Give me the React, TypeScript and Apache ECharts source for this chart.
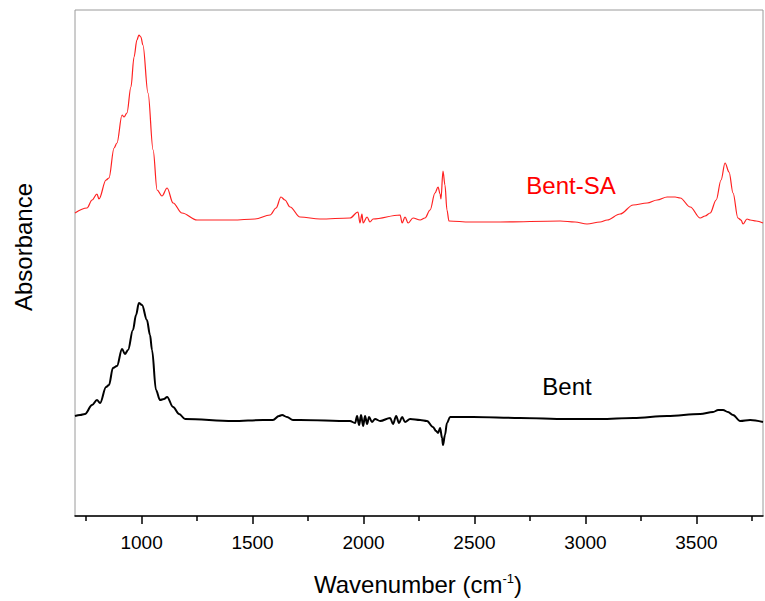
import React, { useEffect, useRef } from "react";
import * as echarts from "echarts";

// Bent-SA spectrum (red)
const bentSaWavenumber = [
  700, 754, 777, 799, 808, 840, 853, 876, 889, 912, 921, 934, 952, 966, 979, 988, 997, 1006,
  1029, 1052, 1070, 1092, 1115, 1142, 1182, 1250, 1412, 1511, 1579, 1606, 1628, 1646, 1669,
  1714, 1804, 1939, 1975, 1984, 1993, 1998, 2016, 2029, 2043, 2165, 2174, 2187, 2201, 2223,
  2255, 2277, 2300, 2322, 2336, 2345, 2349, 2358, 2367, 2376, 2385, 2480, 2615, 2886, 2953,
  3007, 3066, 3098, 3156, 3215, 3278, 3323, 3368, 3404, 3427, 3472, 3517, 3539, 3562, 3589,
  3611, 3629, 3647, 3665, 3687, 3701, 3710, 3728, 3742, 3769, 3800,
];
const bentSaAbsorbance = [
  3.03, 3.08, 3.16, 3.22, 3.17, 3.36, 3.38, 3.68, 3.73, 4.01, 3.99, 4.03, 4.29, 4.59, 4.76, 4.81, 4.79, 4.71,
  4.23, 3.66, 3.26, 3.2, 3.28, 3.13, 3.03, 2.96, 2.96, 2.97, 3.01, 3.08, 3.19, 3.16, 3.09,
  2.99, 2.97, 2.98, 3.04, 2.93, 3.02, 2.93, 2.99, 2.94, 2.97, 3.01, 2.93, 2.99, 2.93, 2.98,
  2.96, 2.98, 3.06, 3.23, 3.29, 3.22, 3.17, 3.45, 3.31, 3.06, 2.95, 2.94, 2.94, 2.95, 2.94,
  2.92, 2.94, 2.96, 3.02, 3.11, 3.13, 3.16, 3.19, 3.19, 3.18, 3.09, 2.98, 3.0, 3.03, 3.16,
  3.36, 3.53, 3.44, 3.23, 2.98, 2.96, 2.92, 2.97, 2.96, 2.95, 2.93,
];

// Bent spectrum (black)
const bentWavenumber = [
  700, 723, 745, 777, 799, 813, 840, 853, 871, 889, 912, 925, 939, 961, 975, 988, 1002, 1024,
  1038, 1047, 1065, 1083, 1101, 1115, 1142, 1169, 1196, 1412, 1547, 1592, 1619, 1633, 1655,
  1682, 1714, 1939, 1962, 1971, 1980, 1989, 1998, 2007, 2016, 2025, 2038, 2052, 2075, 2120,
  2133, 2147, 2160, 2174, 2187, 2210, 2255, 2286, 2313, 2327, 2336, 2345, 2354, 2358, 2367,
  2376, 2390, 2494, 2705, 2917, 3066, 3215, 3368, 3517, 3575, 3598, 3620, 3642, 3665, 3697,
  3742, 3800,
];
const bentAbsorbance = [
  1.0, 1.01, 1.02, 1.11, 1.16, 1.13, 1.29, 1.31, 1.48, 1.5, 1.67, 1.62, 1.66, 1.86, 2.01, 2.13, 2.11, 1.96,
  1.81, 1.66, 1.26, 1.16, 1.17, 1.19, 1.09, 1.02, 0.97, 0.95, 0.96, 0.96, 1.0, 1.01, 0.99,
  0.96, 0.96, 0.95, 0.93, 1.0, 0.91, 1.01, 0.9, 1.0, 0.92, 0.99, 0.94, 0.97, 0.95, 0.98,
  0.92, 1.0, 0.93, 0.99, 0.94, 0.97, 0.96, 0.95, 0.89, 0.85, 0.83, 0.88, 0.78, 0.71, 0.81,
  0.93, 0.99, 0.99, 0.98, 0.97, 0.97, 0.98, 1.0, 1.02, 1.04, 1.06, 1.06, 1.04, 1.01, 0.95,
  0.96, 0.94,
];

const majorTicks = [1000, 1500, 2000, 2500, 3000, 3500];
const minorTicks = [750, 1250, 1750, 2250, 2750, 3250, 3750];

const FONT = "'Liberation Sans', Arial, sans-serif";

export default function App() {
  const ref = useRef<HTMLDivElement>(null);
  useEffect(() => {
    if (!ref.current) return;
    const chart = echarts.init(ref.current, undefined, { renderer: "svg" });
    const saData = bentSaWavenumber.map((x, i) => [x, bentSaAbsorbance[i]]);
    const bData = bentWavenumber.map((x, i) => [x, bentAbsorbance[i]]);
    chart.setOption({
      animation: false,
      backgroundColor: "#ffffff",
      grid: {
        left: 75,
        top: 10,
        right: 2,
        bottom: 85,
        show: true,
        borderColor: "#9a9a9a",
        borderWidth: 1,
        backgroundColor: "transparent",
      },
      xAxis: [
        {
          type: "value",
          min: 700,
          max: 3800,
          position: "bottom",
          axisLine: { show: true, onZero: false, lineStyle: { color: "#000", width: 1.5 } },
          axisTick: {
            show: true,
            inside: false,
            length: 8,
            customValues: majorTicks,
            lineStyle: { color: "#000", width: 1.5 },
          },
          axisLabel: {
            show: true,
            customValues: majorTicks,
            formatter: (v: number) => String(v),
            margin: 17,
            fontSize: 19,
            color: "#000",
            fontFamily: FONT,
          },
          splitLine: { show: false },
        },
        {
          type: "value",
          min: 700,
          max: 3800,
          position: "bottom",
          axisLine: { show: false, onZero: false },
          axisTick: {
            show: true,
            inside: false,
            length: 5,
            customValues: minorTicks,
            lineStyle: { color: "#000", width: 1.5 },
          },
          axisLabel: { show: false },
          splitLine: { show: false },
        },
      ],
      yAxis: {
        type: "value",
        min: 0,
        max: 5.06,
        axisLine: { show: false },
        axisTick: { show: false },
        axisLabel: { show: false },
        splitLine: { show: false },
      },
      series: [
        {
          name: "Bent-SA",
          type: "line",
          data: saData,
          showSymbol: false,
          symbol: "none",
          smooth: 0.35,
          smoothMonotone: "x",
          lineStyle: { color: "#ff2020", width: 1.2 },
          xAxisIndex: 0,
        },
        {
          name: "Bent",
          type: "line",
          data: bData,
          showSymbol: false,
          symbol: "none",
          smooth: 0.35,
          smoothMonotone: "x",
          lineStyle: { color: "#000", width: 2 },
          xAxisIndex: 0,
        },
      ],
      graphic: [
        {
          type: "text",
          x: 571,
          y: 185,
          style: {
            text: "Bent-SA",
            fill: "#ff0000",
            fontSize: 24,
            fontFamily: FONT,
            textAlign: "center",
            textVerticalAlign: "middle",
          },
        },
        {
          type: "text",
          x: 567,
          y: 386,
          style: {
            text: "Bent",
            fill: "#000",
            fontSize: 24,
            fontFamily: FONT,
            textAlign: "center",
            textVerticalAlign: "middle",
          },
        },
        {
          type: "text",
          x: 23,
          y: 247,
          rotation: Math.PI / 2,
          style: {
            text: "Absorbance",
            fill: "#000",
            fontSize: 24,
            fontFamily: FONT,
            textAlign: "center",
            textVerticalAlign: "middle",
          },
        },
        {
          type: "text",
          x: 418,
          y: 584,
          style: {
            text: "Wavenumber (cm{sup|-1}{n|)}",
            fill: "#000",
            fontSize: 24,
            fontFamily: FONT,
            textAlign: "center",
            textVerticalAlign: "middle",
            rich: {
              sup: { fontSize: 13, fontFamily: FONT, fill: "#000", verticalAlign: "top", lineHeight: 24 },
              n: { fontSize: 24, fontFamily: FONT, fill: "#000" },
            },
          },
        },
      ],
    });
    return () => chart.dispose();
  }, []);
  return (
    <div
      ref={ref}
      style={{ position: "absolute", left: 0, top: 0, width: 765, height: 601 }}
    />
  );
}
